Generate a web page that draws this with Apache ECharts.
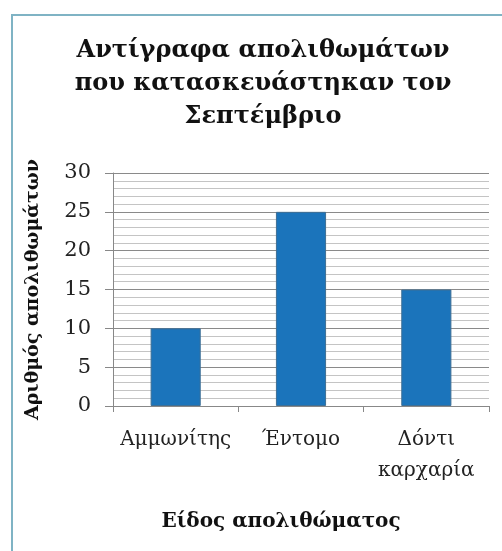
<!DOCTYPE html>
<html><head><meta charset="utf-8">
<script src="https://cdn.jsdelivr.net/npm/echarts@6/dist/echarts.min.js"></script>
<style>
html,body{margin:0;padding:0;background:#fff;}
#frame{position:absolute;left:11px;top:14px;width:520px;height:560px;border:2px solid #7fb3c4;box-sizing:border-box;}
#c{position:absolute;left:0;top:0;width:502px;height:551px;}
</style></head>
<body>
<div id="frame"></div>
<div id="c"></div>
<script>
const titleText = 'Αντίγραφα απολιθωμάτων\nπου κατασκευάστηκαν τον\nΣεπτέμβριο';
const categories = ['Αμμωνίτης', 'Έντομο', 'Δόντι\nκαρχαρία'];
const values = [10, 25, 15];
const yTitle = 'Αριθμός απολιθωμάτων';
const xTitle = 'Είδος απολιθώματος';
const yTicks = {min: 0, max: 30, interval: 5};

const serif = 'DejaVu Serif';
const chart = echarts.init(document.getElementById('c'));
chart.setOption({
  animation: false,
  title: {
    text: titleText, left: 258, top: 29, textAlign: 'center',
    textStyle: {fontFamily: serif, fontWeight: 'bold', fontSize: 24, lineHeight: 33, color: '#111'}
  },
  grid: {left: 113, right: 13, top: 173, bottom: 145},
  xAxis: {
    type: 'category', data: categories,
    axisLine: {lineStyle: {color: '#888', width: 1}},
    axisTick: {show: true, length: 6, lineStyle: {color: '#888'}},
    axisLabel: {interval: 0, fontFamily: serif, fontSize: 20, color: '#222', margin: 18, lineHeight: 31},
    name: xTitle, nameLocation: 'middle', nameGap: 106,
    nameTextStyle: {fontFamily: serif, fontWeight: 'bold', fontSize: 20, color: '#111', padding: [0, 40, 0, 0]}
  },
  yAxis: {
    type: 'value', min: yTicks.min, max: yTicks.max, interval: yTicks.interval,
    axisLine: {show: true, lineStyle: {color: '#888'}},
    axisTick: {show: true, length: 8, lineStyle: {color: '#888'}},
    axisLabel: {fontFamily: serif, fontSize: 21, color: '#222', margin: 22},
    splitLine: {show: true, lineStyle: {color: '#8a8a8a', width: 1}},
    minorTick: {show: false, splitNumber: 5},
    minorSplitLine: {show: true, lineStyle: {color: '#c4c4c4', width: 1}},
    name: yTitle, nameLocation: 'middle', nameGap: 70, nameRotate: 90,
    nameTextStyle: {fontFamily: serif, fontWeight: 'bold', fontSize: 19, color: '#111'}
  },
  series: [{
    type: 'bar', data: values, barWidth: '40%',
    itemStyle: {color: '#1b74bb', borderColor: '#3f6f95', borderWidth: 1}
  }]
});
</script>
</body></html>
